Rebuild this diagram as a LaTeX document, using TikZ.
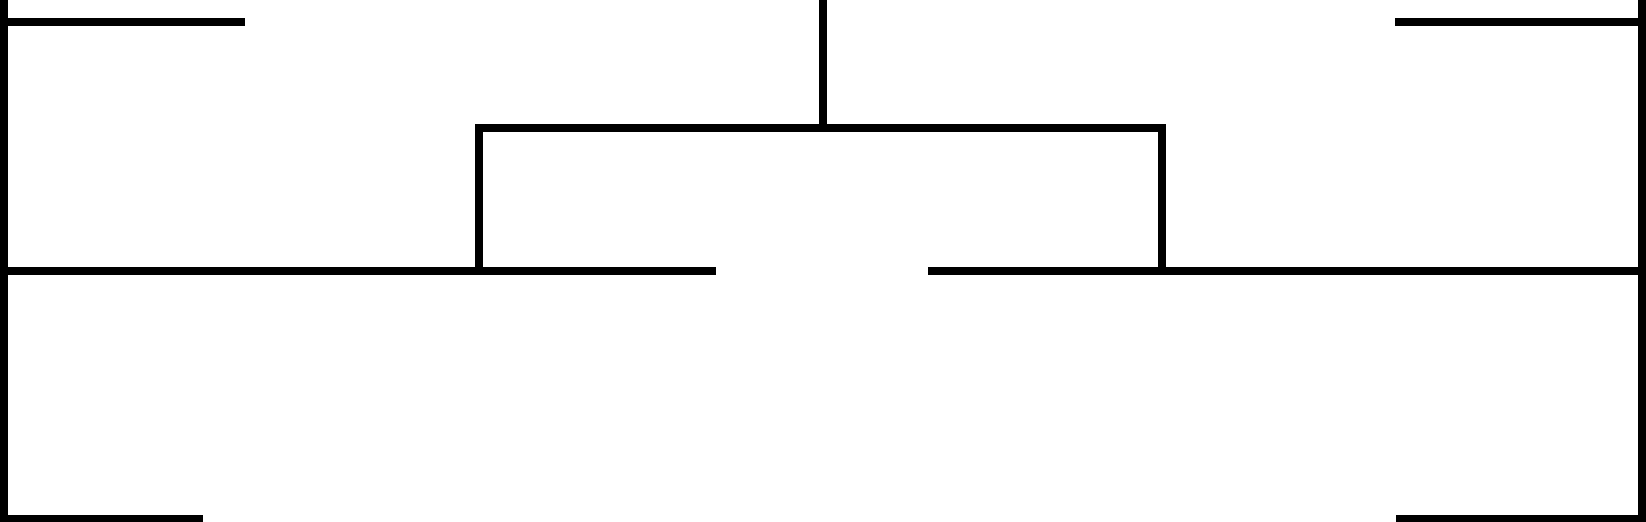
\documentclass[tikz,border=0pt]{standalone}
\begin{document}
\begin{tikzpicture}[x=0.5pt, y=-0.5pt,
    wire/.style={draw=black, line width=4pt, line join=miter}]
\useasboundingbox (0,0) rectangle (1646,522);

% frame corners
\coordinate (tl) at (4,-10);
\coordinate (bl) at (4,532);
\coordinate (tr) at (1642,-10);
\coordinate (br) at (1642,532);

% branches
\coordinate (root) at (822.5,-10);
\coordinate (fork) at (822.5,128);
\coordinate (forkL) at (479,128);
\coordinate (forkR) at (1162,128);
\coordinate (midL) at (479,271);
\coordinate (midR) at (1162,271);
\coordinate (railL) at (4,271);
\coordinate (railR) at (1642,271);
\coordinate (gapL) at (716,271);
\coordinate (gapR) at (928,271);
\coordinate (topL) at (4,22);
\coordinate (topLend) at (245,22);
\coordinate (topR) at (1642,22);
\coordinate (topRend) at (1395,22);
\coordinate (botL) at (4,519);
\coordinate (botLend) at (203,519);
\coordinate (botR) at (1642,519);
\coordinate (botRend) at (1396,519);

\draw[wire] (tl) -- (bl);
\draw[wire] (tr) -- (br);
\draw[wire] (root) -- (fork);
\draw[wire] (midL) -- (forkL) -- (forkR) -- (midR);
\draw[wire] (railL) -- (gapL);
\draw[wire] (gapR) -- (railR);
\draw[wire] (topL) -- (topLend);
\draw[wire] (topRend) -- (topR);
\draw[wire] (botL) -- (botLend);
\draw[wire] (botRend) -- (botR);

\end{tikzpicture}
\end{document}
